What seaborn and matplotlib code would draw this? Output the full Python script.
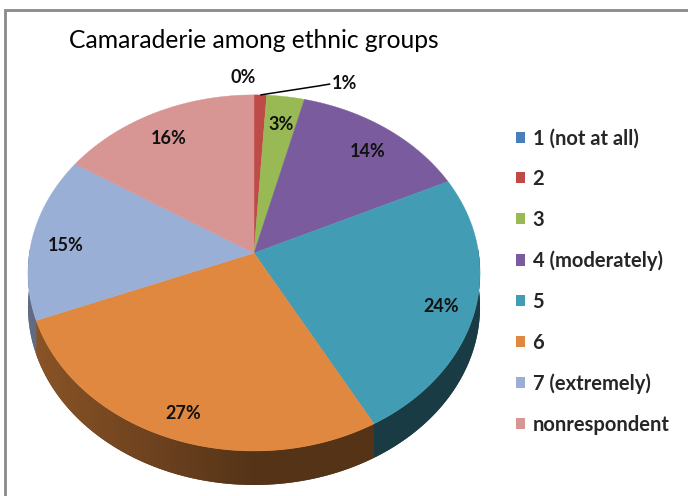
import numpy as np
import matplotlib
matplotlib.use("Agg")
import matplotlib.pyplot as plt
import seaborn as sns
from matplotlib.patches import Patch, Polygon
from matplotlib.colors import to_rgb

# Survey answers: share of respondents per rating
categories = ["1 (not at all)", "2", "3", "4 (moderately)", "5", "6",
              "7 (extremely)", "nonrespondent"]
percentages = [0, 1, 3, 14, 24, 27, 15, 16]
slice_colors = ["#4A7EBB", "#BE4B48", "#98B954", "#7A5C9E",
                "#429CB3", "#E0883F", "#9AAFD6", "#D79593"]
title = "Camaraderie among ethnic groups"

sns.set_theme(style="white")
plt.rcParams["font.family"] = ["Lato", "DejaVu Sans"]
palette = sns.color_palette(slice_colors)

W, H = 688, 496
fig = plt.figure(figsize=(W / 100, H / 100), dpi=100)
ax = fig.add_axes([0, 0, 1, 1])
ax.set_xlim(0, W)
ax.set_ylim(H, 0)
ax.axis("off")

# Tilted disc seen in perspective (pixel units)
CX, CY = 254, 253      # apex of the slices
A, B = 224.6, 175.8    # horizontal / vertical radii
K = 0.112              # perspective strength (far edge shrinks)
DEPTH = 34             # thickness of the disc
LABEL_R = 0.85         # radial position of in-slice labels
LABEL_DY = 6           # labels sit slightly below their radial point


def project(r, theta):
    u = r * np.cos(theta)
    v = r * np.sin(theta)
    w = 1 + K * v
    return CX + A * u / w, CY - B * v / w


vals = np.asarray(percentages, dtype=float)
frac = vals / vals.sum()
cum = np.concatenate([[0], np.cumsum(frac)])
theta_start = np.pi / 2 - 2 * np.pi * cum[:-1]
theta_end = np.pi / 2 - 2 * np.pi * cum[1:]


def arc(i):
    n = max(int(np.degrees(theta_start[i] - theta_end[i]) * 3), 2)
    return np.linspace(theta_start[i], theta_end[i], n + 1)


# Side wall of the disc (front half), shaded darker towards the right
cols = np.arange(W) + 0.5
shade = 0.38 + 0.24 * np.clip((CX - cols) / A, 0, 1)
for i in range(len(vals)):
    if frac[i] == 0:
        continue
    th = arc(i)
    th = th[np.sin(th) < 0.03]
    if th.size < 2:
        continue
    xs, ys = project(1.0, th)
    px = np.concatenate([xs, xs[::-1]])
    py = np.concatenate([ys, ys[::-1] + DEPTH])
    base = np.array(to_rgb(palette[i]))
    mid = base * np.interp(xs.mean(), cols, shade)
    ax.fill(px, py, color=mid, lw=0, zorder=1)
    poly = Polygon(np.column_stack([px, py]), closed=True,
                   transform=ax.transData, fc="none", ec="none")
    ax.add_patch(poly)
    grad = (shade[None, :, None] * base[None, None, :]).clip(0, 1)
    im = ax.imshow(grad, extent=(0, W, py.max() + 1, py.min() - 1),
                   aspect="auto", interpolation="bilinear", zorder=1.5)
    im.set_clip_path(poly)
ax.set_xlim(0, W)
ax.set_ylim(H, 0)

# Top face slices
for i in range(len(vals)):
    if frac[i] == 0:
        continue
    th = arc(i)
    xs, ys = project(1.0, th)
    ax.fill(np.concatenate([[CX], xs]), np.concatenate([[CY], ys]),
            color=palette[i], lw=0.3, ec=palette[i], zorder=2)

# Percentage labels
label_kw = dict(fontsize=13, fontweight="bold", color="#111111", zorder=4)
theta_mid = 0.5 * (theta_start + theta_end)
small = [i for i in range(len(vals)) if vals[i] < 2]
for i in range(len(vals)):
    if i in small:
        continue
    x, y = project(LABEL_R, theta_mid[i])
    ax.text(x, y + LABEL_DY, f"{percentages[i]:.0f}%", ha="center",
            va="center", **label_kw)

# Tiny slices: one label above the rim, one with a leader line
if len(small) >= 1:
    i = small[0]
    x, y = project(1.0, theta_mid[i])
    ax.text(x - 11, y - 17, f"{percentages[i]:.0f}%", ha="center",
            va="center", **label_kw)
if len(small) >= 2:
    i = small[1]
    x, y = project(1.0, theta_mid[i])
    ax.plot([x, x + 58, x + 70], [y, y - 9, y - 11], color="black",
            lw=1.1, zorder=4, solid_capstyle="butt")
    ax.text(x + 71, y - 11, f"{percentages[i]:.0f}%", ha="left",
            va="center", **label_kw)

# Title and chart-area border (left and top edges fall inside the image)
ax.text(69, 41, title, fontsize=17.7, ha="left", va="center", color="black")
ax.plot([5, 5, W + 10], [H + 10, 10, 10], color="#8a8a8a", lw=2,
        solid_joinstyle="miter", zorder=5)

# Legend
handles = [Patch(facecolor=palette[i], edgecolor="none", label=categories[i])
           for i in range(len(categories))]
leg = ax.legend(handles=handles, loc="center left",
                bbox_to_anchor=(516, 281.5), bbox_transform=ax.transData,
                frameon=False, fontsize=14.5, handlelength=0.47,
                handleheight=0.47, handletextpad=0.35, labelspacing=1.03,
                borderpad=0, borderaxespad=0)
for t in leg.get_texts():
    t.set_fontweight("bold")

fig.savefig("out.png", dpi=100, facecolor="white")
